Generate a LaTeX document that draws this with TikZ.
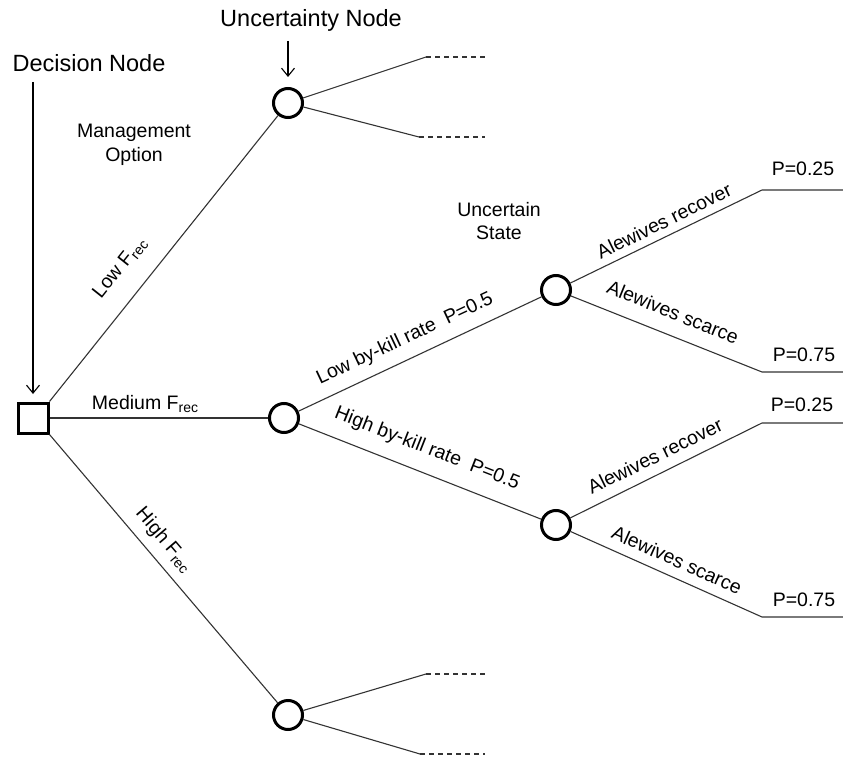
\documentclass[tikz,border=0pt]{standalone}
\usepackage{fontspec}
\setmainfont{Liberation Sans}
\usetikzlibrary{arrows.meta}
\newcommand{\Frec}{F\raisebox{-0.35ex}{\fontsize{14}{14}\selectfont rec}}
\tikzset{
  conn/.style={line width=1.1pt, draw=black!80},
  dashconn/.style={line width=1.1pt, draw=black!80, dash pattern=on 5pt off 4pt},
  chance/.style={circle, draw, line width=3pt, minimum size=29pt, inner sep=0pt},
  decision/.style={rectangle, draw, line width=3pt, minimum size=30pt, inner sep=0pt},
  lab/.style={font=\fontsize{19.5}{23.5}\selectfont, inner sep=0pt, align=center},
  biglab/.style={font=\fontsize{23.5}{27}\selectfont, inner sep=0pt},
  pointer/.style={line width=1.1pt, -{Straight Barb[length=8pt,width=13pt]}}
}
\begin{document}
\begin{tikzpicture}[x=1pt,y=-1pt]
\useasboundingbox (0,0) rectangle (843,759);
% nodes
\node[decision] (sq) at (33,418) {};
\node[chance] (c1) at (288,103) {};
\node[chance] (c2) at (284,418) {};
\node[chance] (c3) at (288,715) {};
\node[chance] (u1) at (556,290) {};
\node[chance] (u2) at (556,525) {};
% free ends
\coordinate (c1a) at (426,57);  \coordinate (c1ae) at (485,57);
\coordinate (c1b) at (419,137); \coordinate (c1be) at (485,137);
\coordinate (c3a) at (426,674); \coordinate (c3ae) at (485,674);
\coordinate (c3b) at (420,754); \coordinate (c3be) at (485,754);
\coordinate (u1a) at (762,190); \coordinate (u1ae) at (843,190);
\coordinate (u1b) at (762,372); \coordinate (u1be) at (843,372);
\coordinate (u2a) at (762,423); \coordinate (u2ae) at (843,423);
\coordinate (u2b) at (762,617); \coordinate (u2be) at (843,617);
% connectors
\draw[conn] (sq.north east) -- (c1);
\draw[conn] (sq.east) -- (c2);
\draw[conn] (sq.south east) -- (c3);
\draw[conn] (c1) -- (c1a); \draw[dashconn] (c1a) -- (c1ae);
\draw[conn] (c1) -- (c1b); \draw[dashconn] (c1b) -- (c1be);
\draw[conn] (c3) -- (c3a); \draw[dashconn] (c3a) -- (c3ae);
\draw[conn] (c3) -- (c3b); \draw[dashconn] (c3b) -- (c3be);
\draw[conn] (c2) -- (u1);
\draw[conn] (c2) -- (u2);
\draw[conn] (u1) -- (u1a) -- (u1ae);
\draw[conn] (u1) -- (u1b) -- (u1be);
\draw[conn] (u2) -- (u2a) -- (u2ae);
\draw[conn] (u2) -- (u2b) -- (u2be);
% headings and pointers
\node[biglab] (dn) at (89,63) {Decision Node};
\node[biglab] (un) at (311,20) {Uncertainty Node};
\coordinate (dnA) at (33,82); \coordinate (dnB) at (33,394);
\coordinate (unA) at (288,41); \coordinate (unB) at (288,77);
\draw[pointer] (dnA) -- (dnB);
\draw[pointer] (unA) -- (unB);
\node[lab] (mo) at (134,145) {Management\\Option};
\node[lab] (us) at (499,221) {Uncertain\\State};
% edge labels
\node[lab, rotate=51.5] (lf) at (120,268) {Low \Frec};
\node[lab] (mf) at (145,404) {Medium \Frec};
\node[lab, rotate=-49.6] (hf) at (164,540) {High \Frec};
\node[lab, rotate=25.2] (lk) at (405,339) {Low by-kill rate\ \ P=0.5};
\node[lab, rotate=-21.5] (hk) at (427,449) {High by-kill rate\ \ P=0.5};
\node[lab, rotate=26] (r1) at (664,221) {Alewives recover};
\node[lab, rotate=-22] (s1) at (673,312) {Alewives scarce};
\node[lab, rotate=26] (r2) at (655,456) {Alewives recover};
\node[lab, rotate=-24] (s2) at (677,560) {Alewives scarce};
\node[lab] (p1) at (803,169) {P=0.25};
\node[lab] (p2) at (804,355) {P=0.75};
\node[lab] (p3) at (802,405) {P=0.25};
\node[lab] (p4) at (804,600) {P=0.75};
\end{tikzpicture}
\end{document}
